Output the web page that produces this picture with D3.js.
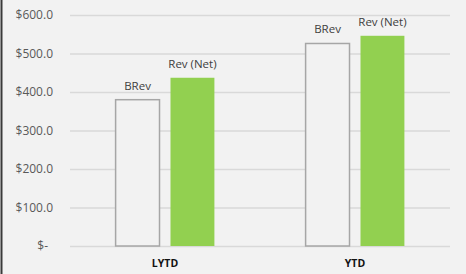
<!DOCTYPE html>
<html>
<head>
<meta charset="utf-8">
<script src="https://cdn.jsdelivr.net/npm/d3@7"></script>
<style>
  body { margin: 0; background: #f2f2f2; }
  svg { display: block; }
</style>
</head>
<body>
<div id="chart"></div>
<script>
// data
var categories = ["LYTD", "YTD"];
var seriesNames = ["BRev", "Rev (Net)"];
var bRev = [380, 526];
var revNet = [437, 546];
var yTicks = [0, 100, 200, 300, 400, 500, 600];

var width = 466,
    height = 274,
    margin = {top: 15, right: 16, bottom: 28, left: 70};

var svg = d3.select("#chart")
  .append("svg")
    .attr("width", width)
    .attr("height", height)
    .style("font-family", "'Open Sans', sans-serif");

svg.append("rect")
  .attr("width", width)
  .attr("height", height)
  .attr("fill", "#f2f2f2");

// dark line on the left edge
svg.append("line")
  .attr("x1", 1.5).attr("x2", 1.5)
  .attr("y1", 0).attr("y2", height)
  .attr("stroke", "#3a3a3a")
  .attr("stroke-width", 2);

var x = d3.scaleBand()
  .domain(categories)
  .range([margin.left, width - margin.right]);

var x1 = d3.scaleBand()
  .domain(seriesNames)
  .range([0, x.bandwidth() * 0.52])
  .paddingInner(0.2);

var y = d3.scaleLinear()
  .domain([0, 600])
  .range([height - margin.bottom, margin.top]);

// gridlines + tick labels
var yAxis = svg.append("g")
  .attr("transform", "translate(" + margin.left + ",0)")
  .call(d3.axisLeft(y)
    .tickValues(yTicks)
    .tickSize(-(width - margin.left - margin.right))
    .tickPadding(17)
    .tickFormat(function(d) { return d === 0 ? "$-" : "$" + d3.format(".1f")(d); }));
yAxis.select(".domain").remove();
yAxis.selectAll("line").attr("stroke", "#d9d9d9").attr("stroke-width", 1.3);
yAxis.selectAll("text")
  .attr("fill", "#595959")
  .style("font-size", "12px")
  .style("font-family", "'Open Sans', sans-serif")
  .attr("dx", function(d) { return d === 0 ? -5 : 0; });

var rows = categories.map(function(c, i) {
  return [
    {cat: c, name: seriesNames[0], value: bRev[i]},
    {cat: c, name: seriesNames[1], value: revNet[i]}
  ];
});

var groups = svg.selectAll(".grp")
  .data(rows)
  .enter()
  .append("g")
    .attr("transform", function(d) {
      return "translate(" + (x(d[0].cat) + x.bandwidth() * 0.24) + ",0)";
    });

groups.selectAll("rect")
  .data(function(d) { return d; })
  .enter()
  .append("rect")
    .attr("x", function(d) { return x1(d.name); })
    .attr("y", function(d) { return y(d.value); })
    .attr("width", x1.bandwidth())
    .attr("height", function(d) { return y(0) - y(d.value); })
    .attr("fill", function(d) { return d.name === "BRev" ? "#f2f2f2" : "#92d050"; })
    .attr("stroke", function(d) { return d.name === "BRev" ? "#a6a6a6" : "none"; })
    .attr("stroke-width", 1.5);

groups.selectAll("text")
  .data(function(d) { return d; })
  .enter()
  .append("text")
    .attr("x", function(d) { return x1(d.name) + x1.bandwidth() / 2; })
    .attr("y", function(d) { return y(d.value) - 10; })
    .attr("text-anchor", "middle")
    .attr("fill", "#404040")
    .style("font-size", "11.5px")
    .text(function(d) { return d.name; });

// category labels
svg.selectAll(".cat")
  .data(categories)
  .enter()
  .append("text")
    .attr("x", function(d) { return x(d) + x.bandwidth() / 2; })
    .attr("y", 267)
    .attr("text-anchor", "middle")
    .attr("fill", "#111")
    .style("font-size", "10.5px")
    .style("font-weight", "bold")
    .text(function(d) { return d; });
</script>
</body>
</html>
